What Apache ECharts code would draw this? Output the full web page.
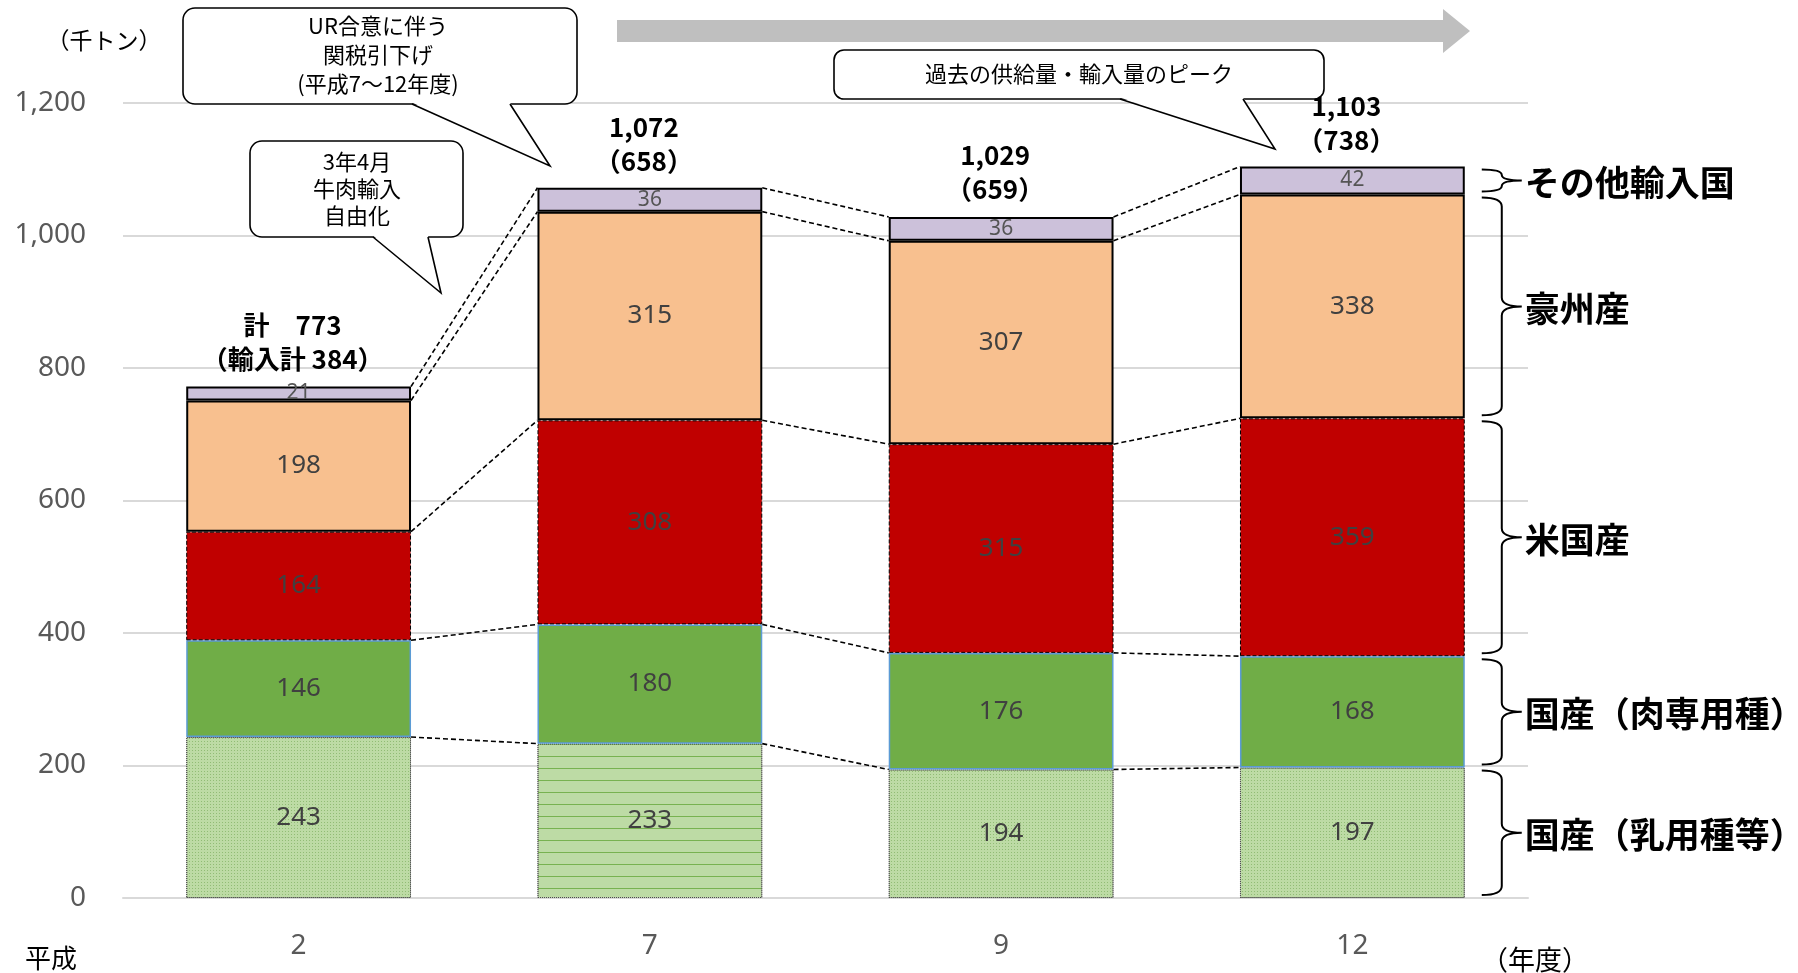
<!DOCTYPE html>
<html>
<head>
<meta charset="utf-8">
<script src="https://cdn.jsdelivr.net/npm/echarts@6/dist/echarts.min.js"></script>
<style>
  html, body { margin: 0; padding: 0; background: #fff; }
  #chart { width: 1798px; height: 973px; }
</style>
</head>
<body>
<div id="chart"></div>
<script>
// 牛肉供給量の推移（千トン）
const years = ['2', '7', '9', '12'];
const dairyDomestic = [243, 233, 194, 197];   // 国産（乳用種等）
const beefDomestic  = [146, 180, 176, 168];   // 国産（肉専用種）
const usImports     = [164, 308, 315, 359];   // 米国産
const ausImports    = [198, 315, 307, 338];   // 豪州産
const otherImports  = [21, 36, 36, 42];       // その他輸入国
const totals        = [773, 1072, 1029, 1103];
const importTotals  = [384, 658, 659, 738];
const seriesNames   = ['国産（乳用種等）', '国産（肉専用種）', '米国産', '豪州産', 'その他輸入国'];

const stackValues = [dairyDomestic, beefDomestic, usImports, ausImports, otherImports];
const BAR_FRAC = 0.64;
const CJK = '"Noto Sans CJK JP", "Noto Sans", sans-serif';
const LATIN = '"Noto Sans", "Noto Sans CJK JP", sans-serif';

// cumulative tops of each stacked segment, per year
const cumulative = [];
stackValues.reduce((acc, vals) => {
  const next = vals.map((v, i) => acc[i] + v);
  cumulative.push(next);
  return next;
}, years.map(() => 0));

function fmt(n) { return n.toLocaleString('en-US'); }

function totalText(i) {
  if (i === 0) return '計　' + fmt(totals[i]) + '\n（輸入計 ' + importTotals[i] + '）';
  return fmt(totals[i]) + '\n（' + importTotals[i] + '）';
}

// "}" shaped brace between yTop and yBot starting at x0
function bracePath(x0, yTop, yBot, w) {
  const xs = x0 + w * 0.5, xt = x0 + w;
  const ym = (yTop + yBot) / 2;
  const r = Math.min(9, (yBot - yTop) / 4);
  return 'M' + x0 + ',' + yTop +
    ' Q' + xs + ',' + yTop + ' ' + xs + ',' + (yTop + r) +
    ' L' + xs + ',' + (ym - r) +
    ' Q' + xs + ',' + ym + ' ' + xt + ',' + ym +
    ' Q' + xs + ',' + ym + ' ' + xs + ',' + (ym + r) +
    ' L' + xs + ',' + (yBot - r) +
    ' Q' + xs + ',' + yBot + ' ' + x0 + ',' + yBot;
}

// rounded callout box whose tail leaves the bottom edge between b1 and b2
function callout(x, y, w, h, r, b1, b2, tx, ty, text, cx, cy, lineHeight) {
  const B = y + h;
  return [
    { type: 'rect', silent: true, z: 20, shape: { x: x, y: y, width: w, height: h, r: r },
      style: { fill: '#fff', stroke: '#000', lineWidth: 1.6 } },
    { type: 'polygon', silent: true, z: 21, shape: { points: [[b1, B - 1.5], [b2, B - 1.5], [tx, ty]] },
      style: { fill: '#fff' } },
    { type: 'polyline', silent: true, z: 22, shape: { points: [[b1, B], [tx, ty], [b2, B]] },
      style: { stroke: '#000', lineWidth: 1.6, fill: null } },
    { type: 'text', silent: true, z: 23, x: cx, y: cy,
      style: { text: text, fontSize: 22, fontFamily: CJK, fill: '#000', align: 'center', verticalAlign: 'middle', lineHeight: lineHeight } }
  ];
}

const labelBase = { show: true, position: 'inside', color: '#404040', fontSize: 26, fontFamily: LATIN };

const segmentStyles = [
  { color: '#bddba5', borderColor: '#4d4d4d', borderWidth: 1, borderType: 'dotted',
    decal: { symbol: 'rect', symbolSize: 1, dashArrayX: [1, 2], dashArrayY: [1, 2], color: 'rgba(90,150,60,0.45)' } },
  { color: '#70ad47', borderColor: '#5b9bd5', borderWidth: 1.5 },
  { color: '#c00000', borderColor: '#000', borderWidth: 1, borderType: 'dashed' },
  { color: '#f8c08f', borderColor: '#000', borderWidth: 2 },
  { color: '#ccc1da', borderColor: '#000', borderWidth: 2 }
];

const barSeries = stackValues.map((vals, k) => ({
  name: seriesNames[k],
  type: 'bar',
  stack: 'total',
  barWidth: (BAR_FRAC * 100) + '%',
  itemStyle: segmentStyles[k],
  label: k === 4 ? Object.assign({}, labelBase, { fontSize: 21, color: '#555' }) : labelBase,
  data: vals.map((v, i) => {
    if (k === 0 && i === 1) {
      return { value: v, itemStyle: { decal: { symbol: 'rect', symbolSize: 1, dashArrayX: [[30, 0]], dashArrayY: [1, 11], color: 'rgba(112,173,71,0.9)' } } };
    }
    return v;
  })
}));

const overlay = {
  type: 'custom',
  coordinateSystem: 'cartesian2d',
  clip: false,
  silent: true,
  z: 10,
  data: totals.map((t, i) => [i, t]),
  renderItem: function (params, api) {
    const i = api.value(0);
    const band = api.size([1, 0])[0];
    const half = band * BAR_FRAC / 2;
    const cx = api.coord([i, 0])[0];
    const children = [];
    // dashed connectors between segment boundaries of neighbouring bars
    if (i < years.length - 1) {
      const cx2 = api.coord([i + 1, 0])[0];
      cumulative.forEach(c => {
        children.push({
          type: 'line',
          shape: { x1: cx + half, y1: api.coord([i, c[i]])[1], x2: cx2 - half, y2: api.coord([i + 1, c[i + 1]])[1] },
          style: { stroke: '#000', lineWidth: 1.6, lineDash: [5, 3] }
        });
      });
    }
    // total above each bar
    const yTop = api.coord([i, totals[i]])[1];
    children.push({
      type: 'text', x: cx - 6, y: yTop - 10,
      style: { text: totalText(i), align: 'center', verticalAlign: 'bottom', fontSize: 26, fontWeight: 'bold',
               fontFamily: CJK, fill: '#000', lineHeight: 34 }
    });
    // braces and series names beside the last bar
    if (i === years.length - 1) {
      const x0 = cx + half + 17;
      cumulative.forEach((c, k) => {
        const lo = k === 0 ? 0 : cumulative[k - 1][i];
        const yB = api.coord([i, lo])[1] - 3;
        const yT = api.coord([i, c[i]])[1] + 3;
        children.push({
          type: 'path', shape: { pathData: bracePath(x0, yT, yB, 40) },
          style: { stroke: '#000', lineWidth: 2, fill: null }
        });
        children.push({
          type: 'text', x: x0 + 43, y: (yT + yB) / 2 + 2,
          style: { text: seriesNames[k], align: 'left', verticalAlign: 'middle', fontSize: 35, fontWeight: 'bold',
                   fontFamily: CJK, fill: '#000' }
        });
      });
    }
    return { type: 'group', children: children };
  }
};

const option = {
  animation: false,
  backgroundColor: '#fff',
  grid: { left: 123, right: 270, top: 103, bottom: 75 },
  xAxis: {
    type: 'category',
    data: years,
    axisLine: { lineStyle: { color: '#d9d9d9', width: 2 } },
    axisTick: { show: false },
    axisLabel: { fontSize: 28, color: '#595959', margin: 34, fontFamily: LATIN }
  },
  yAxis: {
    type: 'value',
    min: 0, max: 1200, interval: 200,
    axisLine: { show: false },
    axisTick: { show: false },
    splitLine: { lineStyle: { color: '#d9d9d9', width: 2 } },
    axisLabel: { fontSize: 28, color: '#595959', margin: 37, fontFamily: LATIN, formatter: v => fmt(v) }
  },
  series: barSeries.concat([overlay]),
  graphic: [
    // period arrow
    { type: 'polygon', silent: true,
      shape: { points: [[617, 20], [1443, 20], [1443, 9], [1470, 31], [1443, 53], [1443, 42], [617, 42]] },
      style: { fill: '#bfbfbf' } },
    // axis captions
    { type: 'text', silent: true, x: 104, y: 40, style: { text: '（千トン）', fontSize: 23, fontFamily: CJK, fill: '#000', align: 'center', verticalAlign: 'middle' } },
    { type: 'text', silent: true, x: 51, y: 958, style: { text: '平成', fontSize: 26, fontFamily: CJK, fill: '#000', align: 'center', verticalAlign: 'middle' } },
    { type: 'text', silent: true, x: 1535, y: 960, style: { text: '（年度）', fontSize: 27, fontFamily: CJK, fill: '#000', align: 'center', verticalAlign: 'middle' } }
  ].concat(
    callout(183, 8, 394, 96, 12, 412, 510, 550, 166, 'UR合意に伴う\n関税引下げ\n(平成7～12年度)', 378, 55, 29),
    callout(250, 141, 213, 96, 12, 373, 428, 441, 293, '3年4月\n牛肉輸入\n自由化', 357, 189, 27),
    callout(834, 50, 490, 49, 10, 1120, 1243, 1275, 149, '過去の供給量・輸入量のピーク', 1079, 74, 24)
  )
};

const chart = echarts.init(document.getElementById('chart'), null, { renderer: 'canvas' });
chart.setOption(option);
</script>
</body>
</html>
